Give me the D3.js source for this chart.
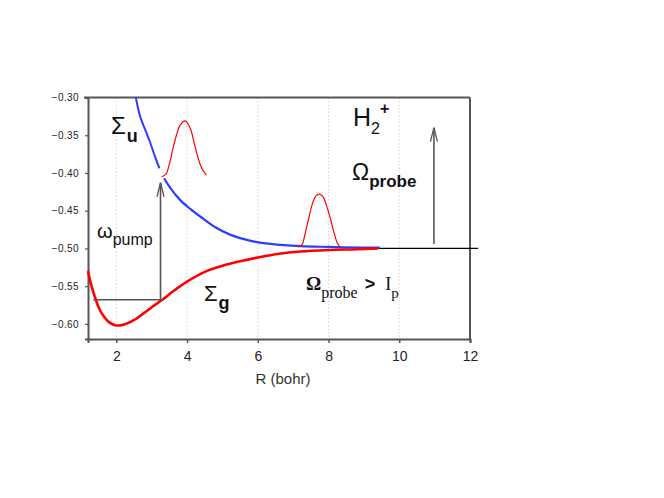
<!DOCTYPE html>
<html><head><meta charset="utf-8">
<script src="https://cdn.jsdelivr.net/npm/d3@7"></script>
<style>body{margin:0;background:#fff}svg{display:block}</style>
</head><body>
<svg id="c" width="664" height="498"></svg>
<script>
// Data
const xTicks = [2, 4, 6, 8, 10, 12];
const yTicks = [-0.60, -0.55, -0.50, -0.45, -0.40, -0.35, -0.30];
const gridR = [2, 4, 6, 8, 10];
const sigmaG = [[1.2,-0.530],[1.3,-0.550],[1.4,-0.565],[1.5,-0.578],[1.6,-0.587],[1.8,-0.598],[2.0,-0.602],[2.2,-0.601],[2.5,-0.595],[2.8,-0.585],[3.0,-0.578],[3.3,-0.568],[3.6,-0.557],[4.0,-0.544],[4.5,-0.531],[5.0,-0.523],[5.5,-0.517],[6.0,-0.512],[6.6,-0.507],[7.2,-0.504],[8.0,-0.502],[8.8,-0.501],[9.4,-0.500]];
const sigmaUUpper = [[2.55,-0.300],[2.68,-0.326],[2.82,-0.343],[2.96,-0.360],[3.10,-0.379],[3.22,-0.394]];
const sigmaULower = [[3.35,-0.407],[3.53,-0.420],[3.81,-0.436],[4.1,-0.448],[4.38,-0.458],[4.8,-0.472],[5.23,-0.482],[5.8,-0.490],[6.36,-0.494],[7.2,-0.497],[8.0,-0.498],[9.0,-0.499],[9.45,-0.499]];
const pulse1 = [[3.28,-0.405],[3.4,-0.402],[3.5,-0.388],[3.6,-0.368],[3.7,-0.350],[3.8,-0.337],[3.95,-0.331],[4.1,-0.342],[4.2,-0.360],[4.3,-0.378],[4.4,-0.392],[4.55,-0.403]];
const pulse2 = [[7.15,-0.498],[7.25,-0.495],[7.35,-0.478],[7.45,-0.458],[7.55,-0.440],[7.65,-0.430],[7.75,-0.428],[7.85,-0.432],[7.95,-0.444],[8.05,-0.460],[8.15,-0.478],[8.25,-0.493],[8.33,-0.498]];
const ionLine = [[9.4,-0.500],[12.23,-0.500]];
const pumpLevel = [[1.35,-0.568],[3.33,-0.568]];
const pumpArrow = [[3.25,-0.568],[3.25,-0.413]];
const probeArrow = [[10.98,-0.494],[10.98,-0.340]];

const svg = d3.select("#c");
const x = d3.scaleLinear().domain([1.2, 12]).range([88, 470]);
const y = d3.scaleLinear().domain([-0.62, -0.30]).range([339, 97.5]);
const sans = "'Liberation Sans', Arial, sans-serif";
const serif = "'Liberation Serif', 'Times New Roman', serif";

// grid
svg.append("g").selectAll("line").data(gridR).join("line")
  .attr("x1", d => x(d)).attr("x2", d => x(d))
  .attr("y1", y(-0.30)).attr("y2", y(-0.62))
  .attr("stroke", "#d4d4d4").attr("stroke-width", 1).attr("stroke-dasharray", "1.5,2");

// axes
const xAxis = svg.append("g").attr("transform", `translate(0,${y(-0.62)})`)
  .call(d3.axisBottom(x).tickValues(xTicks).tickSize(4).tickFormat(d3.format("d")));
xAxis.select(".domain").attr("stroke", "#555").attr("stroke-width", 2);
xAxis.selectAll(".tick line").attr("stroke", "#555").attr("stroke-width", 1.5);
xAxis.selectAll("text").attr("font-family", sans).attr("font-size", 14).attr("fill", "#222").attr("dy", "1.05em");

const yAxis = svg.append("g").attr("transform", `translate(${x(1.2)},0)`)
  .call(d3.axisLeft(y).tickValues(yTicks).tickSize(3).tickPadding(6).tickFormat(d3.format(".2f")));
yAxis.select(".domain").attr("stroke", "#555").attr("stroke-width", 2);
yAxis.selectAll(".tick line").attr("stroke", "#555").attr("stroke-width", 1.2);
yAxis.selectAll("text").attr("font-family", sans).attr("font-size", 10).attr("fill", "#222").attr("letter-spacing", "0.4px");

// top and right frame
svg.append("line").attr("x1", x(1.2) - 4).attr("x2", x(12)).attr("y1", y(-0.30)).attr("y2", y(-0.30)).attr("stroke", "#555").attr("stroke-width", 2);
svg.append("line").attr("x1", x(12)).attr("x2", x(12)).attr("y1", y(-0.30)).attr("y2", y(-0.62)).attr("stroke", "#555").attr("stroke-width", 2);

// x label
svg.append("text").attr("x", 283).attr("y", 384).attr("text-anchor", "middle")
  .attr("font-family", sans).attr("font-size", 15).attr("fill", "#333").text("R (bohr)");

const line = d3.line().x(d => x(d[0])).y(d => y(d[1])).curve(d3.curveCatmullRom.alpha(0.5));
const straight = d3.line().x(d => x(d[0])).y(d => y(d[1]));

// ionization line
svg.append("path").attr("d", straight(ionLine)).attr("stroke", "#000").attr("stroke-width", 1.2).attr("fill", "none");

// curves
svg.append("path").attr("d", line(sigmaUUpper)).attr("stroke", "#2b3dff").attr("stroke-width", 2).attr("fill", "none");
svg.append("path").attr("d", line(sigmaULower)).attr("stroke", "#2b3dff").attr("stroke-width", 2.2).attr("fill", "none");
svg.append("path").attr("d", line(sigmaG)).attr("stroke", "#ff0000").attr("stroke-width", 2.6).attr("fill", "none");
svg.append("path").attr("d", line(pulse1)).attr("stroke", "#f00").attr("stroke-width", 1.2).attr("fill", "none");
svg.append("path").attr("d", line(pulse2)).attr("stroke", "#f00").attr("stroke-width", 1.2).attr("fill", "none");

// pump level and arrows
const gray = "#555";
svg.append("path").attr("d", straight(pumpLevel)).attr("stroke", gray).attr("stroke-width", 1.6).attr("fill", "none");
function arrow(pts) {
  svg.append("path").attr("d", straight(pts)).attr("stroke", gray).attr("stroke-width", 1.6).attr("fill", "none");
  const tx = x(pts[1][0]), ty = y(pts[1][1]);
  svg.append("path").attr("d", `M${tx - 3.5},${ty + 14}L${tx},${ty}L${tx + 3.5},${ty + 14}`)
    .attr("stroke", gray).attr("stroke-width", 1.3).attr("fill", "none");
}
arrow(pumpArrow);
arrow(probeArrow);

// labels
function label(xp, yp, parts) {
  const t = svg.append("text").attr("x", xp).attr("y", yp).attr("fill", "#111");
  parts.forEach(p => {
    const s = t.append("tspan").text(p.t).attr("font-family", p.f || sans).attr("font-size", p.s).attr("font-weight", p.w || "normal");
    if (p.dy) s.attr("dy", p.dy);
    if (p.dx) s.attr("dx", p.dx);
  });
}
label(111, 134, [{t: "Σ", s: 24}, {t: "u", s: 18, w: "bold", dy: 8, dx: 1}]);
label(204, 301, [{t: "Σ", s: 22}, {t: "g", s: 18, w: "bold", dy: 8, dx: 1}]);
label(353, 126, [{t: "H", s: 25}, {t: "2", s: 16, dy: 8}, {t: "+", s: 16, w: "bold", dy: -20}]);
label(352, 180, [{t: "Ω", s: 23}, {t: "probe", s: 17, w: "bold", dy: 7}]);
label(97, 238, [{t: "ω", s: 20}, {t: "pump", s: 16, dy: 7}]);
label(306, 290, [{t: "Ω", s: 19, w: "bold", f: serif}, {t: "probe", s: 16, f: serif, dy: 8}, {t: ">", s: 18, w: "bold", f: sans, dy: -8, dx: 7}, {t: "I", s: 18, f: serif, dx: 10}, {t: "p", s: 15, f: serif, dy: 8}]);
</script>
</body></html>
